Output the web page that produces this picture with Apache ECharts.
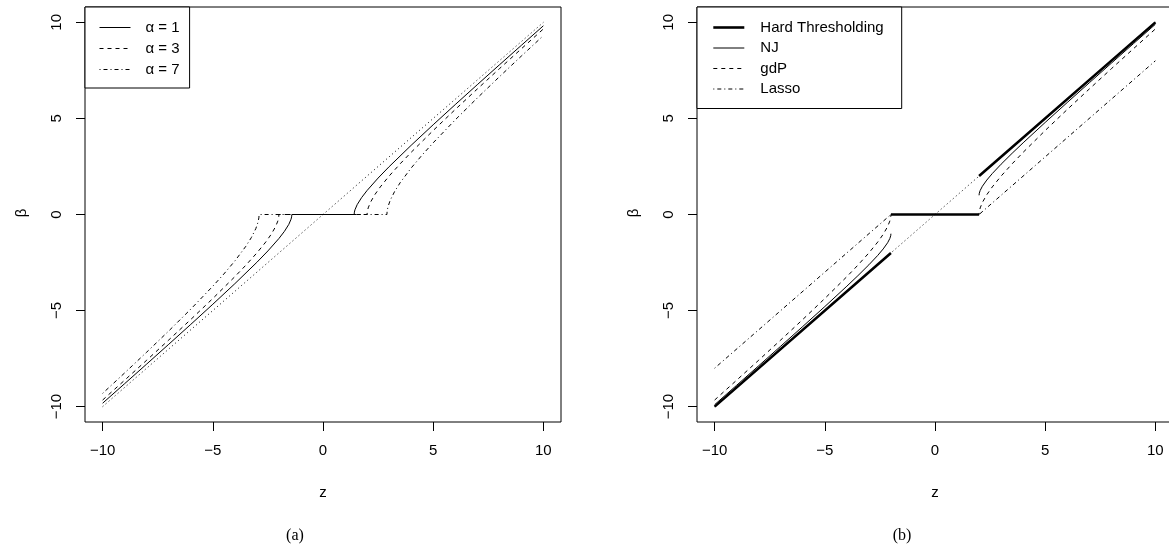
<!DOCTYPE html>
<html>
<head>
<meta charset="utf-8">
<script src="https://cdn.jsdelivr.net/npm/echarts@6/dist/echarts.min.js"></script>
<style>
html,body{margin:0;padding:0;background:#fff;}
#chart{width:1169px;height:548px;}
</style>
</head>
<body>
<div id="chart"></div>
<script>
// ---- tick values / labels ----
const tickValues = [-10, -5, 0, 5, 10];
const tickLabels = ['\u221210', '\u22125', '0', '5', '10'];

// ---- panel (a) ----
const identZ = [-10, 10];
const identB = [-10, 10];

const alpha1Z = [-10,-9,-8,-7,-6,-5,-4,-3,-2.5,-2,-1.75,-1.55,-1.45,-1.424,-1.414,1.414,1.424,1.45,1.55,1.75,2,2.5,3,4,5,6,7,8,9,10];
const alpha1B = [-9.822,-8.804,-7.783,-6.755,-5.720,-4.671,-3.601,-2.488,-1.896,-1.249,-0.877,-0.512,-0.244,-0.124,0,0,0.124,0.244,0.512,0.877,1.249,1.896,2.488,3.601,4.671,5.720,6.755,7.783,8.804,9.822];

const alpha3Z = [-10,-9,-8,-7,-6,-5,-4,-3.5,-3,-2.6,-2.35,-2.15,-2.05,-2.01,-2,2,2.01,2.05,2.15,2.35,2.6,3,3.5,4,5,6,7,8,9,10];
const alpha3B = [-9.657,-8.623,-7.583,-6.531,-5.464,-4.372,-3.236,-2.637,-2.0,-1.436,-1.030,-0.628,-0.342,-0.146,0,0,0.146,0.342,0.628,1.030,1.436,2.0,2.637,3.236,4.372,5.464,6.531,7.583,8.623,9.657];

const alpha7Z = [-10,-9,-8,-7,-6,-5,-4.5,-4,-3.5,-3.25,-3.05,-2.95,-2.91,-2.9,2.9,2.91,2.95,3.05,3.25,3.5,4,4.5,5,6,7,8,9,10];
const alpha7B = [-9.311,-8.245,-7.164,-6.062,-4.925,-3.732,-3.098,-2.419,-1.653,-1.198,-0.739,-0.407,-0.175,0,0,0.175,0.407,0.739,1.198,1.653,2.419,3.098,3.732,4.925,6.062,7.164,8.245,9.311];

// ---- panel (b) ----
const hardZ = [-10,-2,null,-2,2,null,2,10];
const hardB = [-10,-2,null,0,0,null,2,10];

const njZ = [-10,-9,-8,-7,-6,-5,-4,-3.5,-3,-2.6,-2.35,-2.15,-2.05,-2.01,-2,null,2,2.01,2.05,2.15,2.35,2.6,3,3.5,4,5,6,7,8,9,10];
const njB = [-9.899,-8.887,-7.873,-6.854,-5.828,-4.791,-3.732,-3.186,-2.618,-2.131,-1.792,-1.470,-1.250,-1.105,-1,null,1,1.105,1.250,1.470,1.792,2.131,2.618,3.186,3.732,4.791,5.828,6.854,7.873,8.887,9.899];

const gdpZ = [-10,-9,-8,-7,-6,-5,-4,-3.5,-3,-2.6,-2.35,-2.15,-2.05,-2.01,-2,2,2.01,2.05,2.15,2.35,2.6,3,3.5,4,5,6,7,8,9,10];
const gdpB = [-9.657,-8.623,-7.583,-6.531,-5.464,-4.372,-3.236,-2.637,-2.0,-1.436,-1.030,-0.628,-0.342,-0.146,0,0,0.146,0.342,0.628,1.030,1.436,2.0,2.637,3.236,4.372,5.464,6.531,7.583,8.623,9.657];

const lassoZ = [-10,-2,2,10];
const lassoB = [-8,0,0,8];

const legendA = ['\u03b1 = 1', '\u03b1 = 3', '\u03b1 = 7'];
const legendB = ['Hard Thresholding', 'NJ', 'gdP', 'Lasso'];

// ---- helpers ----
function pairs(zs, bs) {
  return zs.map((z, i) => (z === null || bs[i] === null) ? ['-', '-'] : [z, bs[i]]);
}
const SANS = '"Liberation Sans", Arial, Helvetica, sans-serif';
const SERIF = '"Liberation Serif", "Times New Roman", serif';
const DASHED = [4, 4];
const DOTTED = [1, 3];
const DOTDASH = [1, 3, 4, 3];

function mkAxis(idx, isY) {
  return {
    type: 'value', gridIndex: idx, min: -10.8, max: 10.8,
    axisLine: { show: false, onZero: false },
    splitLine: { show: false },
    axisTick: { show: true, inside: false, length: 9, customValues: tickValues, lineStyle: { color: '#000', width: 1 } },
    axisLabel: {
      customValues: tickValues, margin: 21, rotate: isY ? 90 : 0, color: '#000', fontFamily: SANS, fontSize: 15,
      formatter: v => tickLabels[tickValues.indexOf(v)]
    }
  };
}
function line(name, zs, bs, idx, type, width) {
  return {
    type: 'line', name: name, xAxisIndex: idx, yAxisIndex: idx,
    data: pairs(zs, bs), symbol: 'none', showSymbol: false,
    connectNulls: false, smooth: false, silent: true,
    lineStyle: { color: '#000', width: width, type: type, cap: 'butt' },
    itemStyle: { color: '#000' }
  };
}

const legendCommon = {
  orient: 'vertical', borderColor: '#000', borderWidth: 1, backgroundColor: '#fff',
  itemWidth: 31, itemHeight: 14, selectedMode: false, top: 7,
  itemStyle: { opacity: 0, color: 'rgba(0,0,0,0)', borderWidth: 0 },
  lineStyle: { width: 'inherit', type: 'inherit', color: 'inherit', opacity: 1 },
  textStyle: { color: '#000', fontFamily: SANS, fontSize: 15, lineHeight: 14, padding: [0, 0, 0, 10] }
};

const chart = echarts.init(document.getElementById('chart'), null, { renderer: 'canvas' });
chart.setOption({
  animation: false,
  backgroundColor: '#fff',
  grid: [
    { left: 85, top: 7, width: 476, height: 415, show: true, borderColor: '#000', borderWidth: 1, backgroundColor: 'transparent', outerBoundsMode: 'none', containLabel: false },
    { left: 697, top: 7, width: 476, height: 415, show: true, borderColor: '#000', borderWidth: 1, backgroundColor: 'transparent', outerBoundsMode: 'none', containLabel: false }
  ],
  xAxis: [mkAxis(0, false), mkAxis(1, false)],
  yAxis: [mkAxis(0, true), mkAxis(1, true)],
  legend: [
    Object.assign({}, legendCommon, { data: legendA, left: 85, itemGap: 6, padding: [13, 10, 11, 14] }),
    Object.assign({}, legendCommon, { data: legendB, left: 697, itemGap: 5.5, padding: [13, 18, 12, 15],
      textStyle: Object.assign({}, legendCommon.textStyle, { padding: [0, 0, 0, 11] }) })
  ],
  series: [
    line('identA', identZ, identB, 0, DOTTED, 1),
    line(legendA[0], alpha1Z, alpha1B, 0, 'solid', 1),
    line(legendA[1], alpha3Z, alpha3B, 0, DASHED, 1),
    line(legendA[2], alpha7Z, alpha7B, 0, DOTDASH, 1),
    line('identB', identZ, identB, 1, DOTTED, 1),
    line(legendB[0], hardZ, hardB, 1, 'solid', 2.6),
    line(legendB[1], njZ, njB, 1, 'solid', 1),
    line(legendB[2], gdpZ, gdpB, 1, DASHED, 1),
    line(legendB[3], lassoZ, lassoB, 1, DOTDASH, 1)
  ],
  graphic: [
    { type: 'text', x: 323, y: 493, style: { text: 'z', fill: '#000', font: '15px ' + SANS, align: 'center', verticalAlign: 'middle' } },
    { type: 'text', x: 935, y: 493, style: { text: 'z', fill: '#000', font: '15px ' + SANS, align: 'center', verticalAlign: 'middle' } },
    { type: 'text', x: 22, y: 213, rotation: Math.PI / 2, style: { text: '\u03b2', fill: '#000', font: '15px ' + SANS, align: 'center', verticalAlign: 'middle' } },
    { type: 'text', x: 634, y: 213, rotation: Math.PI / 2, style: { text: '\u03b2', fill: '#000', font: '15px ' + SANS, align: 'center', verticalAlign: 'middle' } },
    { type: 'text', x: 295, y: 536, style: { text: '(a)', fill: '#000', font: '16px ' + SERIF, align: 'center', verticalAlign: 'middle' } },
    { type: 'text', x: 902, y: 536, style: { text: '(b)', fill: '#000', font: '16px ' + SERIF, align: 'center', verticalAlign: 'middle' } }
  ]
});
</script>
</body>
</html>
